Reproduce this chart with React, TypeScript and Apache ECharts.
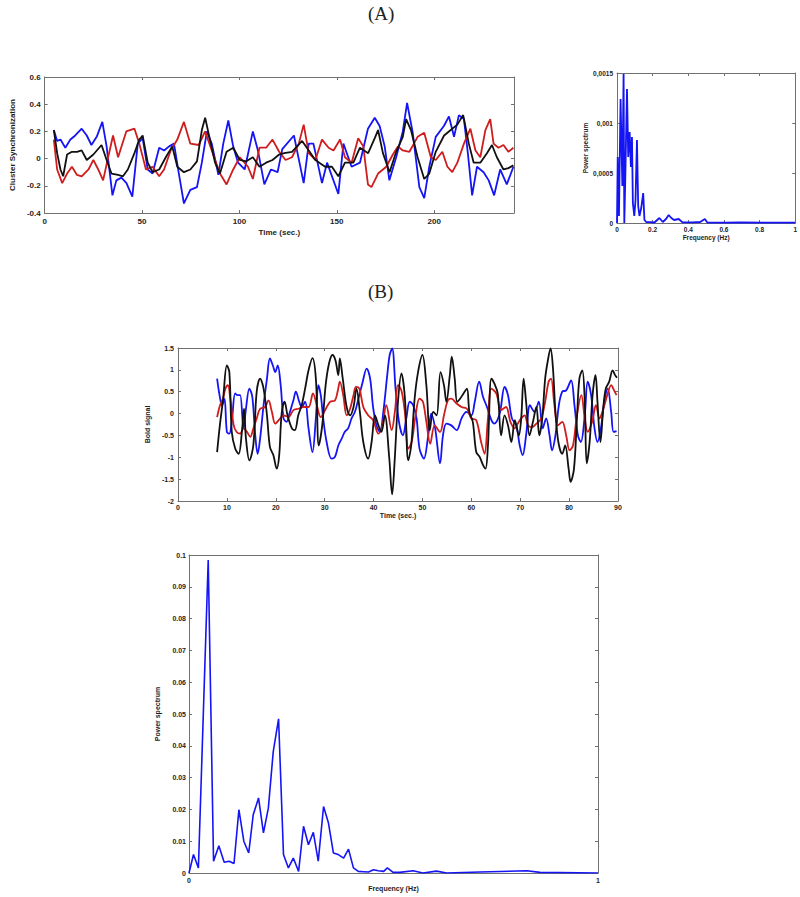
import React, { useEffect, useRef } from "react";
import * as echarts from "echarts";

// ---------- (A) left: cluster synchronization vs time ----------
const a1Blue: number[][] = [[4.7,0.21],[6.4,0.13],[8.1,0.14],[10.6,0.08],[13.2,0.14],[15.7,0.17],[19,0.22],[21.6,0.17],[24,0.1],[26.7,0.16],[29.6,0.27],[31.8,0.09],[34.8,-0.27],[36.8,-0.16],[39.4,-0.14],[42,-0.18],[45,-0.28],[47.8,0.11],[50.3,0.15],[52.9,-0.08],[55.4,-0.11],[58.8,0.08],[61.3,0.06],[63.9,0.09],[66.4,0.11],[68.9,-0.11],[71.5,-0.33],[74.8,-0.23],[78.2,-0.21],[80.7,-0.03],[83.3,0.2],[85.8,0.11],[89.2,-0.12],[91.7,0.11],[94.3,0.28],[96.8,0.09],[99.3,-0.03],[102.7,-0.08],[106.9,0.2],[109.5,0.06],[112.8,-0.19],[116.2,-0.08],[119.6,-0.1],[122,0.07],[128,0.17],[133,-0.18],[135.6,0.11],[138,0.11],[142.4,-0.18],[145,-0.03],[150.8,-0.26],[153.4,0.11],[157.6,-0.06],[161.9,-0.03],[166,0.22],[169.5,0.3],[172,0.24],[174.6,0.09],[177,-0.16],[180.5,0.01],[183.9,0.2],[186.1,0.41],[189,0.19],[192.4,-0.21],[194.9,-0.29],[197.5,-0.06],[200.8,0.16],[205,0.24],[207.6,0.31],[210.2,0.16],[212.7,0.32],[215.3,0.29],[217.3,0.04],[219.5,-0.27],[222,-0.06],[225.4,-0.1],[228,-0.16],[230.8,-0.27],[233.9,-0.08],[237.3,-0.19],[240.7,-0.06]];
const a1Red: number[][] = [[4.7,0.14],[6.4,-0.08],[9,-0.18],[11.5,-0.11],[14,-0.06],[16.6,-0.12],[19,-0.13],[22.5,-0.08],[25,-0.01],[27.5,-0.08],[30,-0.16],[32.6,0.01],[35.1,0.17],[37.7,0.01],[41.9,0.2],[46.1,0.22],[48.6,0.11],[52,-0.08],[55.4,-0.06],[58.8,-0.13],[61.3,-0.08],[64.7,0.06],[68.1,0.14],[71.5,0.27],[74.8,0.11],[79.1,0.1],[82.4,0.2],[85.8,0.06],[90,-0.11],[93.4,-0.19],[96.8,-0.08],[100.2,0.01],[104.4,-0.06],[106.9,-0.15],[110.3,0.08],[113.7,0.08],[117,0.14],[120.4,0.05],[123.7,-0.01],[127,0.01],[130.5,0.11],[133,0.25],[135.6,0.04],[139,-0.01],[142.4,0.14],[145.8,0.08],[148.3,0.06],[151.7,0.14],[154.2,0.01],[157.6,-0.03],[161,0.15],[163.6,0.09],[166,-0.19],[167.8,-0.21],[171.2,-0.11],[175.4,-0.06],[178.8,0.03],[181.4,0.09],[183.9,0.06],[187.3,0.05],[191.5,0.16],[194.9,0.19],[198.3,0.01],[200.8,-0.01],[204.2,0.05],[206.8,-0.06],[209.3,-0.1],[211.9,-0.03],[215.3,0.11],[218.6,0.22],[221.2,0.06],[223.7,0.01],[226.3,0.21],[228.8,0.29],[230.5,0.11],[233,0.08],[235.6,0.1],[238.1,0.05],[240.7,0.08]];
const a1Black: number[][] = [[4.7,0.21],[6.4,0.04],[8.1,-0.08],[9.5,-0.13],[11.5,0.03],[14,0.05],[16.6,0.05],[19,0.06],[21.6,-0.01],[25,0.03],[29.2,0.1],[31.8,-0.01],[34.3,-0.11],[37.7,-0.12],[40.2,-0.13],[42.7,-0.08],[46.1,0.04],[48.6,0.14],[50.3,0.17],[52.9,-0.03],[55.4,-0.1],[58.8,-0.08],[62.2,0.01],[65.5,0.09],[68.1,-0.06],[71.5,-0.1],[74.8,-0.08],[78.2,-0.02],[80.7,0.21],[82.4,0.3],[85,0.13],[87.5,-0.03],[90,-0.11],[93.4,0.05],[96.8,0.08],[100.2,-0.01],[103.5,-0.02],[106.9,0.01],[110.3,-0.06],[113.7,-0.03],[117,-0.01],[120.4,0.03],[123,0.04],[127,0.05],[132.2,0.13],[135.6,0.06],[139,-0.01],[144,-0.06],[147.5,-0.06],[150.8,-0.13],[154.2,-0.03],[158.5,-0.03],[161.9,0.08],[166.1,0.04],[169.5,0.15],[171.2,0.21],[173.7,0.04],[177.1,-0.1],[180.5,0.05],[183.9,0.16],[185.6,0.29],[188.1,0.21],[191.5,0.01],[194.9,-0.15],[197.5,-0.11],[200.8,0.05],[205.1,0.17],[208.5,0.21],[211.9,0.25],[214.9,0.32],[217.8,0.11],[220.3,-0.03],[223.7,-0.03],[227.1,0.04],[229.7,0.1],[232.2,0.01],[235.6,-0.08],[238.1,-0.07],[240.7,-0.05]];

// ---------- (A) right: power spectrum ----------
const a2Spectrum: number[][] = [[0,0],[0.004,0.00066],[0.011,0.00007],[0.02,0.00124],[0.03,0.00037],[0.037,0.00149],[0.041,0],[0.046,0.0004],[0.056,0.00134],[0.063,0.00066],[0.071,0.00091],[0.078,0.00056],[0.084,0.00086],[0.089,0.0002],[0.097,0.00007],[0.104,0.00023],[0.112,0.00083],[0.119,0.00017],[0.126,0.00007],[0.136,0.00015],[0.147,0.0003],[0.154,0.00003],[0.164,0.00001],[0.182,0.000008],[0.21,0.000005],[0.238,0.00005],[0.257,0.00001],[0.275,0.00004],[0.29,0.00008],[0.305,0.00005],[0.32,0.00003],[0.346,0.00004],[0.368,0.000006],[0.424,0.000006],[0.467,0.00001],[0.493,0.00004],[0.507,0.000005],[0.61,0.000003],[0.684,0.000006],[0.87,0.000003],[1,0.000003]];

// ---------- (B) top: bold signal vs time ----------
const b1Black: number[][] = [[8,-0.88],[8.6,-0.23],[9.2,0.3],[10,1.1],[10.5,0.95],[11,-0.42],[11.7,-0.8],[12.4,-0.92],[13.1,-0.38],[13.5,0.11],[13.9,-0.57],[14.6,-1.07],[15.4,-0.73],[16.1,0.5],[16.8,0.8],[17.5,0.57],[18.2,-0.04],[18.8,-0.76],[19.5,-0.95],[20.2,-1.26],[20.7,-0.95],[21.2,0],[21.8,0.27],[22.4,-0.04],[23.3,-0.34],[23.9,-0.38],[24.6,-0.04],[25.3,0.19],[26,0.57],[26.7,0.99],[27.5,1.27],[28.2,0.8],[28.8,-0.73],[29.5,-0.27],[30.2,0.65],[30.9,1.15],[31.6,1.34],[32.2,1.22],[32.8,0.88],[33.1,1.26],[33.7,0.8],[34.5,0.15],[35.2,-0.04],[35.9,0.15],[36.5,0.57],[37.2,0.04],[37.9,-0.65],[38.9,-1.03],[39.6,-0.65],[40.3,-0.04],[41,-0.27],[41.6,-0.42],[42.3,-0.04],[43.2,-1.0],[43.8,-1.85],[44.3,-1.11],[45,0.27],[45.7,0.92],[46.4,0.38],[47.1,-1.07],[47.7,-0.73],[48.4,0.34],[49.1,0.95],[50,1.34],[50.8,0.65],[51.5,-0.38],[52.2,0.04],[52.9,-0.04],[53.7,0.95],[54.4,0.65],[54.9,0.27],[55.6,0.88],[56,1.3],[56.6,0.8],[57.1,0.27],[57.7,0.34],[58.4,0.46],[59.1,0.57],[59.6,0.04],[60.3,-0.19],[61,-0.88],[61.7,-0.99],[62.4,-1.18],[62.9,-1.26],[63.4,-0.73],[64.1,0.8],[64.7,0.69],[65.4,0.46],[66.1,-0.5],[66.8,-0.04],[67.5,-0.27],[68.2,-0.65],[68.9,-0.15],[69.7,-0.5],[70.2,-0.11],[70.7,0.8],[71.2,0.27],[71.9,-0.5],[72.6,-0.19],[73.3,0.15],[73.9,-0.5],[74.5,-0.11],[75.1,0.8],[75.6,1.18],[76.2,1.49],[76.7,1.03],[77.2,0.04],[77.8,-0.65],[78.6,-0.92],[79.2,-0.73],[79.9,-1.26],[80.3,-1.56],[81,-1.26],[81.6,-0.11],[82.1,0.8],[82.7,0.99],[83.2,0.27],[83.6,-1.14],[84.2,-0.65],[84.8,0.42],[85.4,0.88],[85.8,0.27],[86.4,-0.65],[87,0.15],[87.5,0.57],[88.2,0.73],[88.9,0.99],[89.4,0.88],[89.8,0.82]];
const b1Blue: number[][] = [[8,0.8],[8.5,0.42],[9,0.19],[9.5,0.34],[10,-0.42],[10.5,-0.46],[11,-0.19],[11.7,0.46],[12.2,0.42],[12.7,0.42],[13.4,-0.34],[13.9,0.11],[14.6,0.57],[15.2,0.38],[15.8,-0.5],[16.3,-0.92],[16.8,-0.57],[17.5,0.19],[18.2,0.8],[18.8,1.26],[19.4,1.1],[19.9,0.95],[20.4,1.1],[21,0.65],[21.6,-0.11],[22.2,-0.19],[22.9,0.04],[23.6,0.3],[24.1,0.5],[24.8,0.27],[25.3,0.15],[26,0.27],[26.7,-0.34],[27.5,-0.88],[28.2,-0.11],[28.7,0.65],[29.2,0.42],[29.7,-0.11],[30.4,-0.65],[31.4,-1.03],[32.1,-0.99],[32.8,-0.73],[33.5,-0.57],[34.1,-0.42],[34.8,-0.34],[35.5,-0.11],[36.2,0.04],[36.9,0.34],[37.7,0.69],[38.6,1.03],[39.3,0.8],[39.9,0.15],[40.6,-0.27],[41.3,-0.42],[42,0.04],[42.8,0.88],[43.3,1.34],[43.8,1.49],[44.5,0.57],[45.2,-0.19],[46,-0.5],[46.7,-0.11],[47.4,0.27],[48.1,0.19],[48.8,-0.11],[49.4,-0.8],[50.3,-1.03],[51.1,-0.57],[51.8,0],[52.6,-0.34],[53.6,-1.14],[54.2,-0.5],[54.9,-0.23],[55.9,-0.27],[57,-0.38],[58,-0.11],[59,0.04],[60,-0.04],[60.7,0.27],[61.6,0.73],[62.4,0.38],[63.2,0.15],[64.1,-0.15],[64.7,-0.23],[65.8,0],[66.8,0.61],[67.5,0.42],[68.3,-0.11],[69.2,-0.27],[69.9,-0.73],[70.5,-0.95],[71.2,-0.5],[72,0.19],[72.9,0.04],[73.8,0.27],[74.6,-0.34],[75.3,-0.11],[76,-0.5],[76.5,-0.84],[77.2,-0.5],[77.9,0.19],[78.6,0.5],[79.4,0.53],[80.4,0.76],[81.1,0.19],[81.8,-0.5],[82.4,-0.65],[83.2,-0.04],[83.8,0.73],[84.5,0.42],[85.2,-0.34],[85.8,-0.65],[86.5,-0.34],[87.2,0.27],[87.9,0.57],[88.6,0.04],[89.1,-0.42],[89.7,-0.4]];
const b1Red: number[][] = [[8,-0.08],[8.6,0.19],[9.2,0.34],[9.7,0.57],[10.2,0.65],[10.7,0.34],[11.4,-0.27],[12,-0.42],[12.7,-0.46],[13.4,-0.34],[14.1,-0.42],[14.8,-0.53],[15.4,-0.34],[16.1,-0.11],[16.8,0.11],[17.8,0.15],[18.5,0.3],[19.2,0.04],[19.9,-0.23],[20.9,-0.11],[21.6,-0.04],[22.6,-0.08],[23.6,0.08],[24.6,0.11],[25.6,0.15],[26.7,0.15],[27.6,0.46],[28.4,0.19],[29.2,-0.08],[30.1,0.08],[31.1,0.27],[32.1,0.3],[32.7,0.53],[33.1,0.73],[33.8,0.42],[34.5,-0.04],[35.2,0.11],[35.9,0.42],[36.4,0.61],[37.1,0.57],[37.9,0.15],[38.9,-0.04],[39.9,-0.15],[41,-0.46],[41.8,-0.27],[42.6,0.19],[43.7,-0.38],[44.4,0.08],[45,0.65],[45.7,0.53],[46.4,0.04],[47.1,-0.8],[47.8,-0.65],[48.6,-0.04],[49.4,0.34],[50.1,0.27],[50.8,-0.19],[51.6,-0.69],[52.5,-0.27],[53.6,-0.42],[54.4,-0.04],[55.2,0.3],[55.9,0.34],[57,0.23],[58,0.15],[59.1,0.11],[60,-0.11],[61,-0.15],[62,-0.65],[62.7,-0.92],[63.4,-0.11],[64.1,0.57],[65.1,0.46],[66.1,0.08],[67.1,0.15],[68,-0.19],[68.9,-0.34],[69.5,-0.23],[70.2,-0.11],[70.9,-0.04],[71.6,-0.27],[72.4,-0.31],[73.3,-0.23],[74.3,-0.11],[75.1,0.27],[75.8,0.73],[76.3,0.8],[77,0.19],[77.7,-0.27],[78.6,-0.19],[79.4,-0.5],[80.1,-0.84],[80.8,-0.73],[81.6,-0.04],[82.5,0.42],[83.2,-0.11],[83.8,-0.42],[84.7,-0.19],[85.5,0.19],[86.2,-0.11],[87,0.11],[87.9,0.46],[88.6,0.65],[89.2,0.53],[89.7,0.42]];

// ---------- (B) bottom: power spectrum ----------
const b2Spectrum: number[][] = [[0,0],[0.011,0.0058],[0.023,0.0016],[0.047,0.0984],[0.06,0.0037],[0.073,0.0086],[0.086,0.0034],[0.098,0.0037],[0.11,0.003],[0.122,0.0199],[0.134,0.01],[0.146,0.0063],[0.157,0.0183],[0.17,0.0236],[0.182,0.0126],[0.194,0.0204],[0.206,0.0382],[0.219,0.0485],[0.231,0.0058],[0.243,0.0016],[0.255,0.0047],[0.268,0.0005],[0.28,0.0147],[0.292,0.0089],[0.304,0.0128],[0.316,0.0037],[0.329,0.0209],[0.341,0.0157],[0.353,0.0063],[0.365,0.0058],[0.378,0.0047],[0.39,0.0075],[0.402,0.0016],[0.414,0.0005],[0.427,0.0004],[0.439,0.0003],[0.451,0.001],[0.463,0.0007],[0.476,0.0005],[0.485,0.0016],[0.499,0.0002],[0.515,0.0002],[0.548,0.0007],[0.572,0],[0.605,0.0006],[0.63,0],[0.712,0.0003],[0.826,0.0007],[0.858,0.0002],[1,0]];

const titles = ["(A)", "(B)"];

const SANS = "'Liberation Sans', Arial, Helvetica, sans-serif";
const AXIS_COLOR = "#707070";
const TEXT_COLOR = "#1e1e1e";
const BLUE = "#1414f5";
const RED = "#cf1c1c";
const BLACK = "#111111";

type AxisSpec = {
  grid: number; min: number; max: number; interval: number; fs: number;
  name: string; nameGap: number; margin: number; formatter?: (v: number) => string;
};

function pairAxes(kind: "x" | "y", s: AxisSpec) {
  const common = {
    type: "value", gridIndex: s.grid, min: s.min, max: s.max, interval: s.interval,
    axisLine: { show: true, onZero: false, lineStyle: { color: AXIS_COLOR, width: 1 } },
    axisTick: { show: true, inside: true, length: 3, lineStyle: { color: AXIS_COLOR } },
    splitLine: { show: false },
  };
  const main = {
    ...common,
    position: kind === "x" ? "bottom" : "left",
    axisLabel: {
      show: true, color: TEXT_COLOR, fontFamily: SANS, fontWeight: "bold", fontSize: s.fs,
      margin: s.margin, formatter: s.formatter, showMaxLabel: true, showMinLabel: true,
    },
    name: s.name, nameLocation: "middle", nameGap: s.nameGap,
    nameTextStyle: { color: TEXT_COLOR, fontFamily: SANS, fontWeight: "bold", fontSize: s.fs },
  };
  const mirror = {
    ...common,
    position: kind === "x" ? "top" : "right",
    axisLabel: { show: false },
  };
  return [main, mirror];
}

function line(data: number[][], color: string, xi: number, width: number, smooth: number | boolean = false) {
  return {
    type: "line", data, xAxisIndex: xi, yAxisIndex: xi, symbol: "none", showSymbol: false,
    smooth, lineStyle: { color, width }, itemStyle: { color }, silent: true,
  };
}

export default function App() {
  const ref = useRef<HTMLDivElement>(null);
  useEffect(() => {
    if (!ref.current) return;
    const chart = echarts.init(ref.current, undefined, { renderer: "svg" });
    const xAxes = [
      ...pairAxes("x", { grid: 0, min: 0, max: 241, interval: 50, fs: 8, name: "Time (sec.)", nameGap: 15, margin: 4,
        formatter: (v: number) => (v % 50 === 0 ? String(v) : "") }),
      ...pairAxes("x", { grid: 1, min: 0, max: 1, interval: 0.2, fs: 6.5, name: "Frequency (Hz)", nameGap: 11, margin: 3 }),
      ...pairAxes("x", { grid: 2, min: 0, max: 90, interval: 10, fs: 7, name: "Time (sec.)", nameGap: 11, margin: 3 }),
      ...pairAxes("x", { grid: 3, min: 0, max: 1, interval: 1, fs: 7, name: "Frequency (Hz)", nameGap: 12, margin: 4 }),
    ];
    const yAxes = [
      ...pairAxes("y", { grid: 0, min: -0.4, max: 0.6, interval: 0.2, fs: 8, name: "Cluster Synchronization", nameGap: 22, margin: 4 }),
      ...pairAxes("y", { grid: 1, min: 0, max: 0.0015, interval: 0.0005, fs: 6.5, name: "Power spectrum", nameGap: 25, margin: 4,
        formatter: (v: number) => String(parseFloat(v.toFixed(6))).replace(".", ",") }),
      ...pairAxes("y", { grid: 2, min: -2, max: 1.5, interval: 0.5, fs: 7, name: "Bold signal", nameGap: 19, margin: 4 }),
      ...pairAxes("y", { grid: 3, min: 0, max: 0.1, interval: 0.01, fs: 7, name: "Power spectrum", nameGap: 15, margin: 3,
        formatter: (v: number) => String(parseFloat(v.toFixed(4))) }),
    ];
    chart.setOption({
      animation: false,
      backgroundColor: "#ffffff",
      title: [
        { text: titles[0], left: 368, top: 4, padding: 0,
          textStyle: { fontFamily: "'Liberation Serif', 'DejaVu Serif', serif", fontSize: 19, fontWeight: "normal", color: "#222" } },
        { text: titles[1], left: 368, top: 282, padding: 0,
          textStyle: { fontFamily: "'Liberation Serif', 'DejaVu Serif', serif", fontSize: 19, fontWeight: "normal", color: "#222" } },
      ],
      grid: [
        { left: 37, top: 77, width: 477, height: 136 },
        { left: 617, top: 73, width: 180, height: 150 },
        { left: 178, top: 348, width: 440, height: 153 },
        { left: 189, top: 555, width: 409, height: 318 },
      ],
      xAxis: xAxes,
      yAxis: yAxes,
      series: [
        line(a1Blue, BLUE, 0, 1.8),
        line(a1Red, RED, 0, 1.8),
        line(a1Black, BLACK, 0, 1.8),
        line(a2Spectrum, BLUE, 2, 1.8),
        line(b1Blue, BLUE, 4, 1.8, 0.35),
        line(b1Red, RED, 4, 1.8, 0.35),
        line(b1Black, BLACK, 4, 1.8, 0.35),
        line(b2Spectrum, BLUE, 6, 1.6),
      ],
    });
    return () => chart.dispose();
  }, []);
  return <div ref={ref} style={{ position: "fixed", left: 0, top: 0, width: 800, height: 897 }} />;
}
